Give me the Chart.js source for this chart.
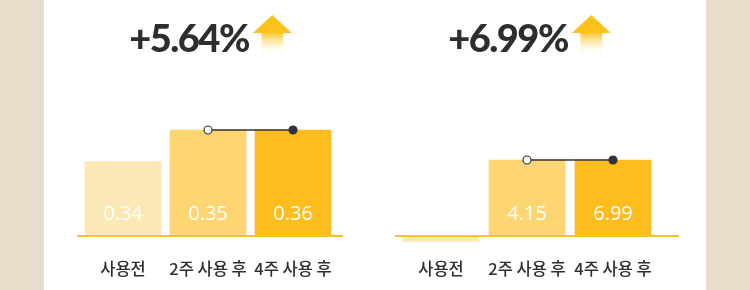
<!DOCTYPE html>
<html>
<head>
<meta charset="utf-8">
<script src="https://cdn.jsdelivr.net/npm/chart.js@4.4.0/dist/chart.umd.min.js"></script>
<style>
  html, body { margin: 0; padding: 0; }
  body { width: 750px; height: 290px; background: #e8dccb; position: relative; overflow: hidden; }
  #panel { position: absolute; left: 44px; top: 0; width: 662px; height: 290px; background: #fff; }
  .box { position: absolute; top: 0; width: 331px; height: 290px; }
</style>
</head>
<body>
<div id="panel">
  <div class="box" style="left:0"><canvas id="leftChart"></canvas></div>
  <div class="box" style="left:331px"><canvas id="rightChart"></canvas></div>
</div>
<script>
var categories = ['사용전', '2주 사용 후', '4주 사용 후'];

var leftTitle = '+5.64%';
var leftValues = ['0.34', '0.35', '0.36'];
var leftBars = [70, 100, 100];   // bar height as drawn (100 = tallest bar)
var leftLine = [null, 100, 100];

var rightTitle = '+6.99%';
var rightValues = [null, '4.15', '6.99'];
var rightBars = [-7, 100, 100];
var rightLine = [null, 100, 100];

var barColors = ['#fbe8b4', '#fdd572', '#fdbd1e'];

function drawArrow(ctx, x, top) {
  ctx.fillStyle = '#fcc21b';
  ctx.beginPath();
  ctx.moveTo(x + 19.5, top);
  ctx.lineTo(x + 39, top + 18);
  ctx.lineTo(x, top + 18);
  ctx.closePath();
  ctx.fill();
  var g = ctx.createLinearGradient(0, top + 17, 0, top + 41);
  g.addColorStop(0, '#fcc21b');
  g.addColorStop(1, 'rgba(255,255,255,0)');
  ctx.fillStyle = g;
  ctx.fillRect(x + 8.5, top + 17, 22, 24);
}

var deco = {
  id: 'deco',
  afterDatasetsDraw: function(chart, args, opts) {
    var ctx = chart.ctx, area = chart.chartArea;
    var y0 = chart.scales.y.getPixelForValue(0);
    ctx.save();
    ctx.fillStyle = '#f5c22b';
    ctx.fillRect(area.left - opts.lineLeft, y0 - 1, area.right - area.left + opts.lineLeft + opts.lineRight, 2);

    ctx.fillStyle = '#fff';
    ctx.font = '500 20px "Open Sans"';
    ctx.textAlign = 'center';
    ctx.textBaseline = 'middle';
    chart.getDatasetMeta(0).data.forEach(function(bar, i) {
      if (opts.values[i]) ctx.fillText(opts.values[i], bar.x, y0 - 22);
    });
    ctx.restore();
  },
  afterDraw: function(chart, args, opts) {
    var ctx = chart.ctx;
    ctx.save();
    ctx.fillStyle = '#2e2e2e';
    ctx.font = '900 38px Lato';
    ctx.letterSpacing = '-1.5px';
    ctx.textAlign = 'center';
    ctx.textBaseline = 'middle';
    ctx.fillText(opts.title, opts.titleX, 40);
    var w = ctx.measureText(opts.title).width;
    drawArrow(ctx, opts.titleX + w / 2 + 4, 15);
    ctx.restore();
  }
};

function makeChart(id, bars, line, values, title, s) {
  return new Chart(document.getElementById(id), {
    type: 'bar',
    data: {
      labels: categories,
      datasets: [{
        data: bars,
        backgroundColor: barColors,
        barThickness: 76,
        order: 1
      }, {
        type: 'line',
        data: line,
        borderColor: '#333',
        borderWidth: 1.5,
        pointRadius: 4,
        pointBorderWidth: 1.2,
        pointBorderColor: '#333',
        pointBackgroundColor: ['#333', '#fff', '#333'],
        order: 0
      }]
    },
    options: {
      responsive: true,
      maintainAspectRatio: false,
      animation: false,
      layout: { padding: { left: s.left, right: s.right, top: s.top, bottom: 0 } },
      scales: {
        x: {
          grid: { display: false, drawTicks: false },
          border: { display: false },
          ticks: {
            color: '#2e2e2e',
            font: { family: '"Noto Sans CJK KR"', size: 16.5, weight: '500' },
            padding: s.tickPad,
            autoSkip: false,
            maxRotation: 0
          },
          afterFit: function(scale) { scale.height = s.axisH; }
        },
        y: { display: false, min: -10, max: s.max }
      },
      plugins: {
        legend: { display: false },
        tooltip: { enabled: false },
        deco: { values: values, title: title, titleX: s.titleX, lineLeft: s.lineLeft, lineRight: s.lineRight }
      }
    },
    plugins: [deco]
  });
}

makeChart('leftChart', leftBars, leftLine, leftValues, leftTitle,
  { left: 36.5, right: 39.5, top: 66.4, axisH: 43.4, tickPad: 11.8, max: 160, titleX: 145, lineLeft: 3.5, lineRight: 7.5 });
makeChart('rightChart', rightBars, rightLine, rightValues, rightTitle,
  { left: 23, right: 50, top: 68.8, axisH: 46.4, tickPad: 14.8, max: 220, titleX: 133, lineLeft: 3, lineRight: 23 });
</script>
</body>
</html>
